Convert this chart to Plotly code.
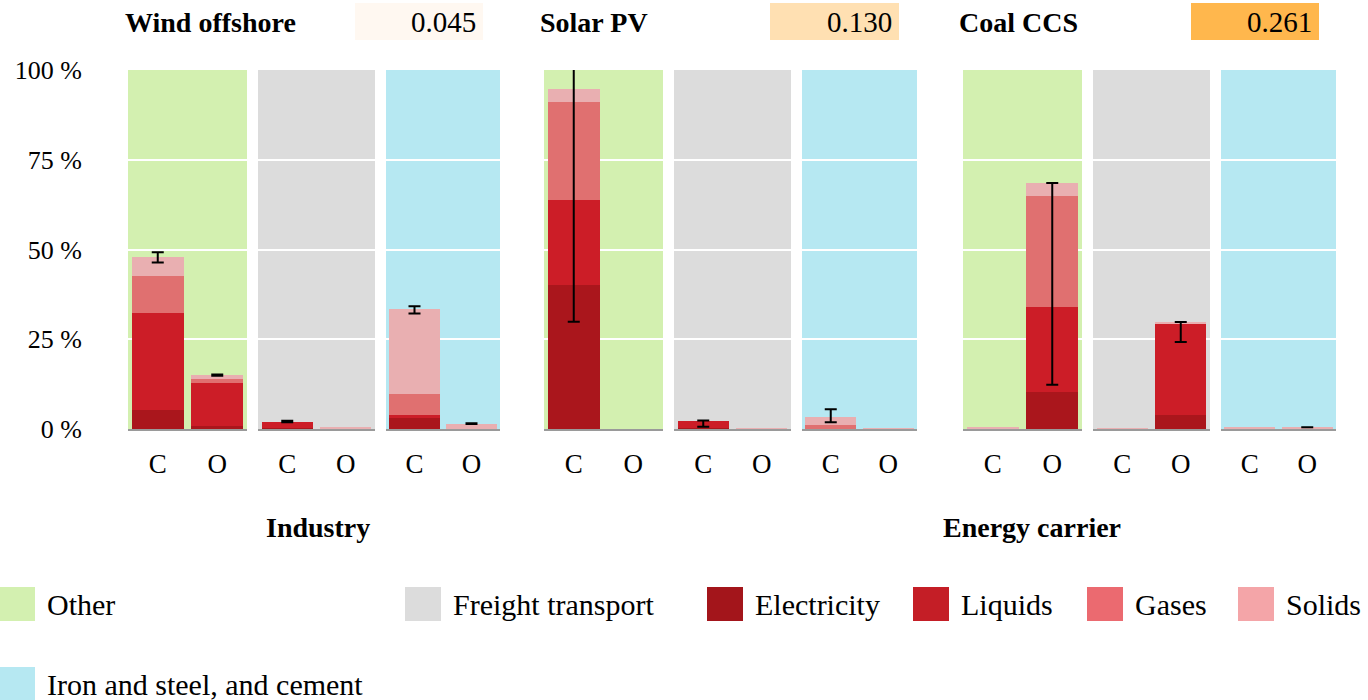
import plotly.graph_objects as go

# ---- data -------------------------------------------------------------
technologies = ["Wind offshore", "Solar PV", "Coal CCS"]
tech_scores = [0.045, 0.130, 0.261]
score_colors = ["#fff8f1", "#ffe0b2", "#ffb74d"]

sectors = ["Other", "Freight transport", "Iron and steel, and cement"]
sector_colors = ["#d3f0b0", "#dcdcdc", "#b6e8f2"]

cases = ["C", "O"]

carriers = ["Electricity", "Liquids", "Gases", "Solids"]
carrier_colors = ["#aa161c", "#cc1d27", "#e07070", "#e9afb1"]
legend_carrier_colors = ["#a3151b", "#c41e26", "#eb6a70", "#f4a5a8"]

# shares in % indexed [technology][sector][case]
electricity = [
    [[5.3, 0.8], [0.2, 0.0], [3.0, 0.0]],
    [[40.0, 0.0], [0.3, 0.0], [0.0, 0.0]],
    [[0.0, 10.2], [0.0, 3.9], [0.0, 0.0]],
]
liquids = [
    [[27.1, 12.0], [1.8, 0.0], [0.9, 0.0]],
    [[23.8, 0.0], [1.9, 0.0], [0.0, 0.0]],
    [[0.0, 23.9], [0.0, 25.3], [0.0, 0.0]],
]
gases = [
    [[10.3, 1.2], [0.0, 0.0], [5.8, 0.0]],
    [[27.4, 0.0], [0.0, 0.0], [1.1, 0.0]],
    [[0.0, 30.8], [0.0, 0.0], [0.0, 0.0]],
]
solids = [
    [[5.2, 1.0], [0.0, 0.4], [23.6, 1.5]],
    [[3.5, 0.0], [0.0, 0.2], [2.3, 0.1]],
    [[0.6, 3.6], [0.2, 0.6], [0.5, 0.5]],
]

# uncertainty around the stacked total (None = no error bar)
error_plus = [
    [[1.3, 0.2], [0.3, None], [0.9, 0.1]],
    [[20.0, None], [0.2, None], [2.1, None]],
    [[None, 0.0], [None, 0.0], [None, 0.0]],
]
error_minus = [
    [[1.5, 0.2], [0.1, None], [1.1, 0.1]],
    [[64.8, None], [1.6, None], [1.5, None]],
    [[None, 56.2], [None, 5.6], [None, 0.0]],
]

y_ticks = [0, 25, 50, 75, 100]
y_tick_labels = ["0 %", "25 %", "50 %", "75 %", "100 %"]
axis_titles = ["Industry", "Energy carrier"]

# ---- layout geometry (pixels) ----------------------------------------
W, H = 1368, 700
panel_edges = [
    [(128, 247), (258, 375), (386, 500)],
    [(544, 663), (674, 791), (802, 917)],
    [(963, 1082), (1093, 1210), (1221, 1336)],
]
plot_top, plot_bottom = 70, 429
title_left = [123, 538, 957]
score_boxes = [(355, 483), (770, 899), (1191, 1319)]

FONT = "Liberation Serif, Times New Roman, serif"


def px_x(p):
    return p / W


def px_y(p):
    return 1 - p / H


series = [electricity, liquids, gases, solids]

fig = go.Figure()
layout_axes = {}
shapes = []
annotations = []

for t in range(len(technologies)):
    for s in range(len(sectors)):
        k = t * 3 + s + 1
        xa = "x" if k == 1 else f"x{k}"
        for c, name in enumerate(carriers):
            fig.add_trace(go.Bar(
                x=cases, y=series[c][t][s], name=name,
                marker=dict(color=carrier_colors[c], line=dict(width=0)),
                xaxis=xa, yaxis="y", showlegend=False,
            ))
        totals = [sum(series[c][t][s][i] for c in range(4)) for i in range(2)]
        idx = [i for i in range(2) if error_plus[t][s][i] is not None]
        if idx:
            fig.add_trace(go.Scatter(
                x=[cases[i] for i in idx],
                y=[totals[i] for i in idx],
                mode="markers", marker=dict(size=1, opacity=0),
                error_y=dict(type="data", symmetric=False,
                             array=[error_plus[t][s][i] for i in idx],
                             arrayminus=[error_minus[t][s][i] for i in idx],
                             color="black", thickness=2, width=6),
                xaxis=xa, yaxis="y", showlegend=False, hoverinfo="skip",
            ))
        l, r = panel_edges[t][s]
        key = "xaxis" if k == 1 else f"xaxis{k}"
        layout_axes[key] = dict(
            domain=[px_x(l), px_x(r)], anchor="y", type="category",
            categoryorder="array", categoryarray=cases, range=[-0.5, 1.5],
            showgrid=False, zeroline=False,
            showline=True, linecolor="#9a9a9a", linewidth=2,
            ticks="outside", ticklen=10, tickcolor="rgba(0,0,0,0)",
            tickfont=dict(family=FONT, size=27, color="black"),
            automargin=False, fixedrange=True,
        )
        shapes.append(dict(
            type="rect", xref=f"{xa} domain", yref="y domain",
            x0=0, x1=1, y0=0, y1=1, fillcolor=sector_colors[s],
            line=dict(width=0), layer="below",
        ))

    # technology header with score box
    annotations.append(dict(
        text=f"<b>{technologies[t]}</b>", xref="paper", yref="paper",
        x=px_x(title_left[t]), y=px_y(22), xanchor="left", yanchor="middle",
        showarrow=False, font=dict(family=FONT, size=28, color="black"),
    ))
    bl, br = score_boxes[t]
    shapes.append(dict(
        type="rect", xref="paper", yref="paper",
        x0=px_x(bl), x1=px_x(br), y0=px_y(40), y1=px_y(3),
        fillcolor=score_colors[t], line=dict(width=0),
    ))
    annotations.append(dict(
        text=f"{tech_scores[t]:.3f}", xref="paper", yref="paper",
        x=px_x(br - 5), y=px_y(22), xanchor="right", yanchor="middle",
        showarrow=False, font=dict(family=FONT, size=29, color="black"),
    ))

# group captions below the tick labels
for label, cx in zip(axis_titles, [318, 1032]):
    annotations.append(dict(
        text=f"<b>{label}</b>", xref="paper", yref="paper",
        x=px_x(cx), y=px_y(527), xanchor="center", yanchor="middle",
        showarrow=False, font=dict(family=FONT, size=28, color="black"),
    ))

# legend swatches
legend_items = [
    (sectors[0], sector_colors[0], -1, 604),
    (sectors[1], sector_colors[1], 405, 604),
    (carriers[0], legend_carrier_colors[0], 707, 604),
    (carriers[1], legend_carrier_colors[1], 913, 604),
    (carriers[2], legend_carrier_colors[2], 1087, 604),
    (carriers[3], legend_carrier_colors[3], 1238, 604),
    (sectors[2], sector_colors[2], -1, 684),
]
for label, color, sx, cy in legend_items:
    shapes.append(dict(
        type="rect", xref="paper", yref="paper",
        x0=px_x(sx), x1=px_x(sx + 36), y0=px_y(cy + 17), y1=px_y(cy - 17),
        fillcolor=color, line=dict(width=0),
    ))
    annotations.append(dict(
        text=label, xref="paper", yref="paper",
        x=px_x(sx + 46), y=px_y(cy), xanchor="left", yanchor="middle",
        showarrow=False, font=dict(family=FONT, size=30, color="black"),
    ))

fig.update_layout(
    width=W, height=H,
    margin=dict(l=0, r=0, t=0, b=0, pad=0),
    paper_bgcolor="white", plot_bgcolor="white",
    barmode="stack", bargap=0.12,
    showlegend=False,
    font=dict(family=FONT, color="black"),
    yaxis=dict(
        domain=[px_y(plot_bottom), px_y(plot_top)], anchor="x",
        range=[0, 100], tickvals=y_ticks, ticktext=y_tick_labels,
        showgrid=True, gridcolor="white", gridwidth=2,
        zeroline=False, showline=False,
        ticks="outside", ticklen=40, tickcolor="rgba(0,0,0,0)",
        tickfont=dict(family=FONT, size=26, color="black"),
        automargin=False, fixedrange=True,
    ),
    shapes=shapes,
    annotations=annotations,
    **layout_axes,
)

fig.write_html("out.html")
